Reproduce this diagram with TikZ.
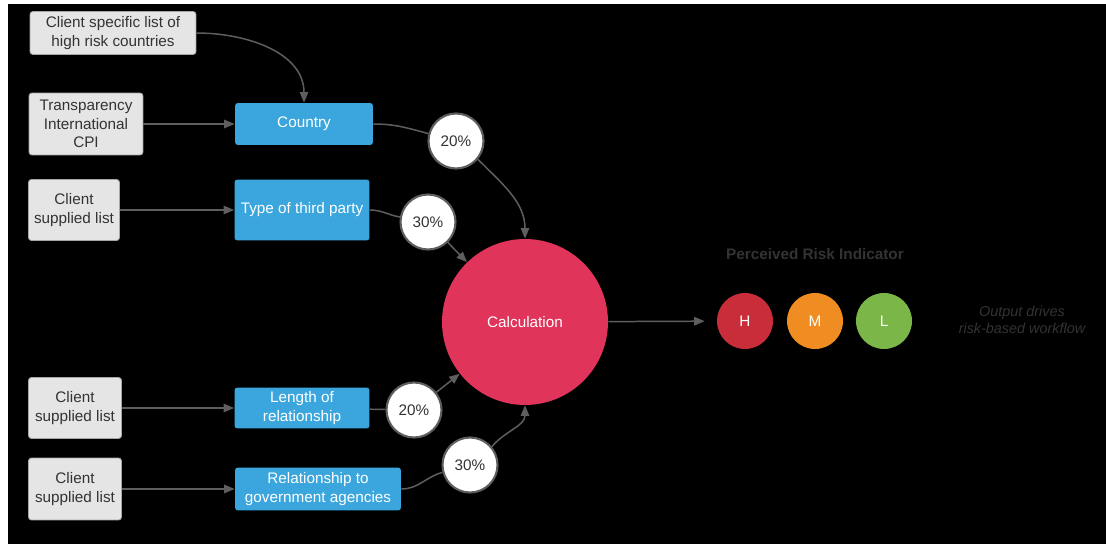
\documentclass[tikz,border=0pt]{standalone}
\usepackage{fontspec}
\setmainfont{Liberation Sans}
\usetikzlibrary{arrows.meta}

\definecolor{srcgray}{HTML}{E5E5E5}
\definecolor{factorblue}{HTML}{3AA6DD}
\definecolor{calcred}{HTML}{E0345A}
\definecolor{riskH}{HTML}{C92D39}
\definecolor{riskM}{HTML}{EF8D22}
\definecolor{riskL}{HTML}{7AB648}
\definecolor{linkgray}{HTML}{5E5E5E}
\definecolor{txtgray}{HTML}{333333}

\begin{document}
\begin{tikzpicture}[x=0.02cm,y=-0.02cm,
		every node/.style={font=\fontsize{8.7}{10.4}\selectfont, align=center, inner sep=0pt},
		source/.style={fill=srcgray, draw=gray!70, line width=0.5pt, rounded corners=1.7pt, text=txtgray},
		factor/.style={fill=factorblue, rounded corners=1.7pt, text=white},
		weight/.style={circle, fill=white, draw=linkgray, line width=1.2pt, minimum size=1.1cm, text=txtgray},
		risk/.style={circle, minimum size=1.12cm, text=white},
		line/.style={draw=linkgray, line width=0.85pt},
		link/.style={line, -{Triangle[length=6pt,width=4.8pt]}}]
		\useasboundingbox[fill=white] (0,0) rectangle (1106,544);
		\fill[black] (8,4) rectangle (1106,544);
		% sources
		\node[source, minimum width=3.32cm, minimum height=0.86cm] (spec) at (113,33) {Client specific list of\\high risk countries};
		\node[source, minimum width=2.28cm, minimum height=1.24cm] (cpi) at (86,124) {Transparency\\International\\CPI};
		\node[source, minimum width=1.82cm, minimum height=1.22cm] (listA) at (74,210) {Client\\supplied list};
		\node[source, minimum width=1.86cm, minimum height=1.22cm] (listB) at (75,408) {Client\\supplied list};
		\node[source, minimum width=1.86cm, minimum height=1.24cm] (listC) at (75,489) {Client\\supplied list};
		% factors
		\node[factor, minimum width=2.76cm, minimum height=0.84cm] (country) at (304,124) {Country};
		\node[factor, minimum width=2.7cm, minimum height=1.22cm] (type) at (302,210) {Type of third party};
		\node[factor, minimum width=2.7cm, minimum height=0.82cm] (length) at (302,408) {Length of\\relationship};
		\node[factor, minimum width=3.32cm, minimum height=0.86cm] (gov) at (318,489) {Relationship to\\government agencies};
		% weights
		\node[weight] (wCountry) at (456,141) {20\%};
		\node[weight] (wType) at (428,222) {30\%};
		\node[weight] (wLength) at (414,410) {20\%};
		\node[weight] (wGov) at (470,465) {30\%};
		\node[circle, fill=calcred, minimum size=3.32cm, text=white] (calc) at (525,322) {Calculation};
		% output
		\node[font=\fontsize{8.7}{10.4}\selectfont\bfseries, text=txtgray] (pri) at (815,254) {Perceived Risk Indicator};
		\node[risk, fill=riskH] (H) at (745,321) {H};
		\node[risk, fill=riskM] (M) at (815,321) {M};
		\node[risk, fill=riskL] (L) at (884,321) {L};
		\node[font=\fontsize{8.2}{9.8}\selectfont\itshape, text=txtgray] (out) at (1022,320) {Output drives\\risk-based workflow};

		\draw[link] (spec.east) to[out=0,in=90] (country.north);
		\draw[link] (cpi) -- (country);
		\draw[link] (listA) -- (type);
		\draw[link] (listB) -- (length);
		\draw[link] (listC) -- (gov);
		\draw[line] (country.east) to[out=0,in=165] (wCountry);
		\draw[link] (wCountry.-40) to[out=-45,in=90] (calc.north);
		\draw[line] (type.east) to[out=0,in=170] (wType);
		\draw[link] (wType) -- (calc);
		\draw[line] (length) -- (wLength);
		\draw[link] (wLength) -- (calc);
		\draw[line] (gov.east) to[out=0,in=195] (wGov);
		\draw[link] (wGov.40) to[out=50,in=-90] (calc.south);
		\draw[link, shorten >=0.24cm] (calc) -- (H);
	\end{tikzpicture}
\end{document}
